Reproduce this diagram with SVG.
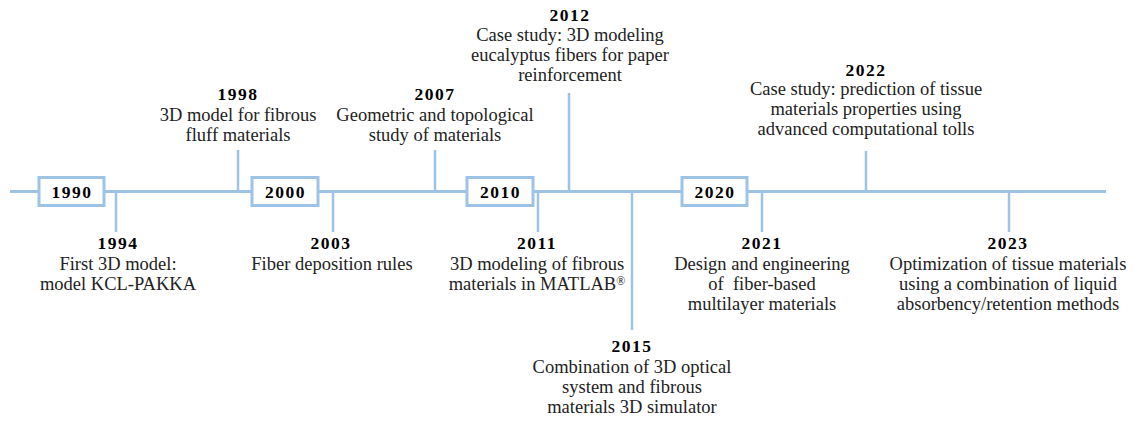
<svg xmlns="http://www.w3.org/2000/svg" width="1137" height="421" viewBox="0 0 1137 421">
  <style>
    .axis { stroke: #9DC3E6; stroke-width: 3; fill: none; }
    .tick { stroke: #9DC3E6; stroke-width: 2.5; fill: none; }
    .box { fill: #FFFFFF; stroke: #9DC3E6; stroke-width: 3; }
    text { font-family: "Liberation Serif", "Times New Roman", serif; text-anchor: middle; }
    .yr { font-size: 17.5px; font-weight: bold; fill: #000000; letter-spacing: 1.5px; }
    .txt { font-size: 18.5px; fill: #222222; white-space: pre; }
    .reg { font-size: 12px; }
  </style>

  <!-- timeline axis and event ticks -->
  <g id="connectors">
    <line class="axis" x1="10" y1="191.5" x2="1106" y2="191.5"/>
    <line class="tick" x1="116" y1="191.5" x2="116" y2="232"/>
    <line class="tick" x1="238" y1="150" x2="238" y2="191.5"/>
    <line class="tick" x1="333" y1="191.5" x2="333" y2="232"/>
    <line class="tick" x1="435" y1="150" x2="435" y2="191.5"/>
    <line class="tick" x1="538" y1="191.5" x2="538" y2="232"/>
    <line class="tick" x1="569" y1="93" x2="569" y2="191.5"/>
    <line class="tick" x1="632" y1="191.5" x2="632" y2="330"/>
    <line class="tick" x1="762" y1="191.5" x2="762" y2="232"/>
    <line class="tick" x1="866" y1="151" x2="866" y2="191.5"/>
    <line class="tick" x1="1009" y1="191.5" x2="1009" y2="232"/>
  </g>

  <!-- decade markers -->
  <g id="decade-1990">
    <rect class="box" x="39" y="177.5" width="65" height="28"/>
    <text class="yr" x="72" y="197.5">1990</text>
  </g>
  <g id="decade-2000">
    <rect class="box" x="252" y="177.5" width="66" height="28"/>
    <text class="yr" x="285.5" y="197.5">2000</text>
  </g>
  <g id="decade-2010">
    <rect class="box" x="467" y="177.5" width="66" height="28"/>
    <text class="yr" x="500.5" y="197.5">2010</text>
  </g>
  <g id="decade-2020">
    <rect class="box" x="682" y="177.5" width="65" height="28"/>
    <text class="yr" x="715" y="197.5">2020</text>
  </g>

  <!-- events -->
  <g id="event-1994">
    <text class="yr" x="118" y="249">1994</text>
    <text class="txt" x="118" y="270">First 3D model:</text>
    <text class="txt" x="118" y="290">model KCL-PAKKA</text>
  </g>
  <g id="event-1998">
    <text class="yr" x="238" y="100">1998</text>
    <text class="txt" x="238" y="121">3D model for fibrous</text>
    <text class="txt" x="238" y="141">fluff materials</text>
  </g>
  <g id="event-2003">
    <text class="yr" x="331" y="249">2003</text>
    <text class="txt" x="332" y="270">Fiber deposition rules</text>
  </g>
  <g id="event-2007">
    <text class="yr" x="435" y="100">2007</text>
    <text class="txt" x="435" y="121">Geometric and topological</text>
    <text class="txt" x="435" y="141">study of materials</text>
  </g>
  <g id="event-2011">
    <text class="yr" x="537" y="249">2011</text>
    <text class="txt" x="537" y="270">3D modeling of fibrous</text>
    <text class="txt" x="537" y="290">materials in MATLAB<tspan class="reg" dy="-5">®</tspan></text>
  </g>
  <g id="event-2012">
    <text class="yr" x="570" y="21">2012</text>
    <text class="txt" x="570" y="41">Case study: 3D modeling</text>
    <text class="txt" x="570" y="61">eucalyptus fibers for paper</text>
    <text class="txt" x="570" y="81">reinforcement</text>
  </g>
  <g id="event-2015">
    <text class="yr" x="632" y="352">2015</text>
    <text class="txt" x="632" y="373">Combination of 3D optical</text>
    <text class="txt" x="632" y="393">system and fibrous</text>
    <text class="txt" x="632" y="413">materials 3D simulator</text>
  </g>
  <g id="event-2021">
    <text class="yr" x="762" y="249">2021</text>
    <text class="txt" x="762" y="270">Design and engineering</text>
    <text class="txt" x="762" y="290">of  fiber-based</text>
    <text class="txt" x="762" y="310">multilayer materials</text>
  </g>
  <g id="event-2022">
    <text class="yr" x="866" y="76">2022</text>
    <text class="txt" x="866" y="95">Case study: prediction of tissue</text>
    <text class="txt" x="866" y="115">materials properties using</text>
    <text class="txt" x="866" y="135">advanced computational tolls</text>
  </g>
  <g id="event-2023">
    <text class="yr" x="1008" y="249">2023</text>
    <text class="txt" x="1008" y="270">Optimization of tissue materials</text>
    <text class="txt" x="1008" y="290">using a combination of liquid</text>
    <text class="txt" x="1008" y="310">absorbency/retention methods</text>
  </g>
</svg>
